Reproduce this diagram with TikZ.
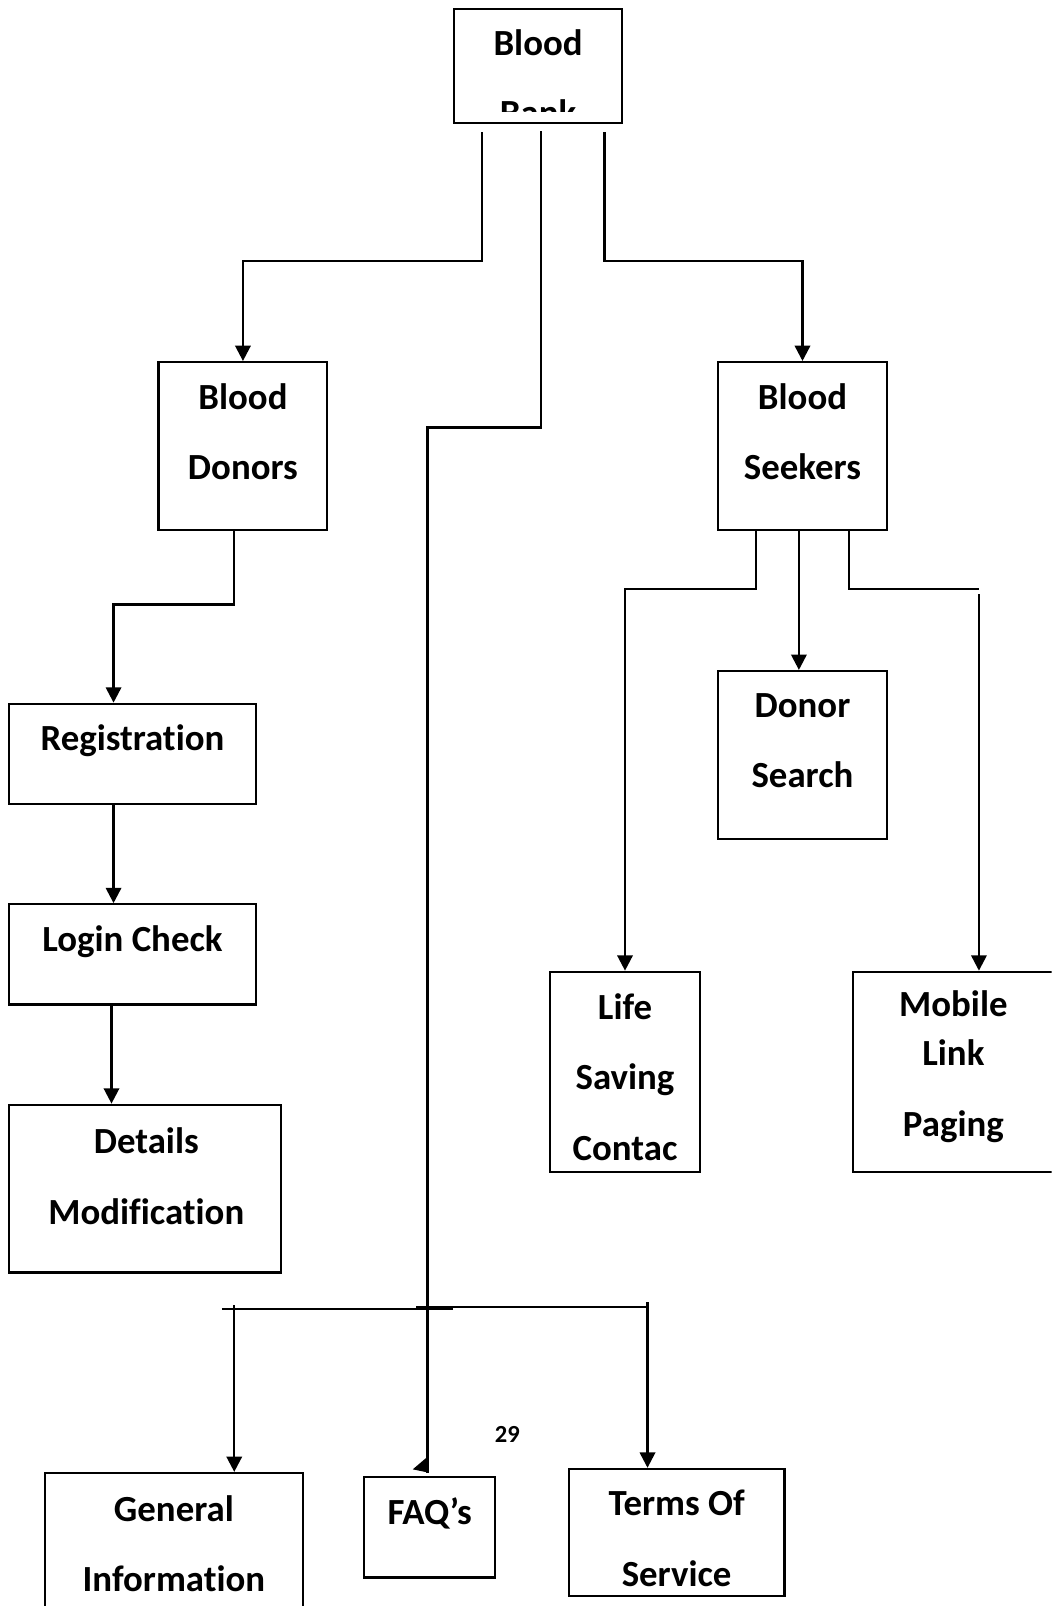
\documentclass[tikz,border=0pt]{standalone}
\usepackage{fontspec}
\setmainfont{Carlito}[Ligatures={TeX,NoCommon,NoContextual}, Contextuals=NoAlternate, RawFeature={-liga;-clig;-calt}]
\usetikzlibrary{arrows.meta,calc,fit}

\begin{document}
\begin{tikzpicture}[x=0.5pt,y=-0.5pt,
    box/.style={draw, line width=1.1pt, inner sep=0pt},
    txt/.style={align=center, font=\bfseries\fontsize{18}{34.5}\selectfont},
    line/.style={line width=1.2pt},
    arr/.style={line width=1.2pt, -{Triangle[width=7.5pt,length=7.5pt]}}]
                \clip (0,0) rectangle (1028,1570);
                \node[box, fit={(444,9) (608,120)}] (bank) {};
                \node[box, fit={(155,354) (320,518)}] (donors) {};
                \node[box, fit={(702,354) (867,518)}] (seekers) {};
                \node[box, fit={(9,688) (250,786)}] (reg) {};
                \node[box, fit={(9,884) (250,982)}] (login) {};
                \node[box, fit={(9,1080) (275,1244)}] (details) {};
                \node[box, fit={(702,656) (867,820)}] (search) {};
                \node[box, fit={(538,950) (684,1146)}] (life) {};
                \node[box, fit={(834,950) (1032,1146)}] (mobile) {};
                \node[box, fit={(44,1440) (296,1590)}] (general) {};
                \node[box, fit={(356,1444) (484,1542)}] (faq) {};
                \node[box, fit={(556,1436) (767,1560)}] (terms) {};
                \begin{scope}
                    \clip (444,9) rectangle (608,109);
                    \node[txt] (bankT) at (526,76) {Blood\\Bank};
                \end{scope}
                \node[txt] (donorsT) at (237.5,422) {Blood\\Donors};
                \node[txt] (seekersT) at (784.5,422) {Blood\\Seekers};
                \node[txt] (regT) at (129.5,724) {Registration};
                \node[txt] (loginT) at (129.5,921) {Login Check};
                \node[txt] (detailsT) at (143,1150) {Details\\Modification};
                \node[txt] (searchT) at (784.5,724) {Donor\\Search};
                \node[txt] (lifeT) at (611,1053) {Life\\Saving\\Contac};
                \node[txt] (mobileT) at (932,1043) {Mobile\\[-10.5pt]Link\\Paging};
                \node[txt] (generalT) at (170,1509) {General\\Information};
                \node[txt] (faqT) at (420,1479) {FAQ’s};
                \node[txt] (termsT) at (661.5,1504) {Terms Of\\Service};
                \node[font=\bfseries\fontsize{12}{14}\selectfont] (page) at (496,1402) {29};
                \draw[arr] ($(bank.south)+(-55,8)$) |- ($(donors.north)+(0,-98)$) -- (donors.north);
                \draw[arr] ($(bank.south)+(65,8)$) |- ($(seekers.north)+(0,-98)$) -- (seekers.north);
                \draw[line] ($(bank.south)+(3,7)$) |- ($(faq.north)+(-2,-1025)$) -- ($(faq.north)+(-2,-3)$);
                \fill ($(faq.north)+(-3,-18)$) -- ++(-13.5,11.5) -- ++(14.5,3) -- cycle;
                \draw[arr] ($(donors.south)+(-8.5,0)$) |- ($(reg.north)+(-18.5,-96)$) -- ($(reg.north)+(-18.5,0)$);
                \draw[arr] ($(reg.south)+(-18.5,0)$) -- ($(login.north)+(-18.5,0)$);
                \draw[arr] ($(login.south)+(-20.5,0)$) -- ($(details.north)+(-33,0)$);
                \draw[arr] ($(seekers.south)+(-45.5,0)$) |- ($(life.north)+(0,-373)$) -- (life.north);
                \draw[arr] ($(seekers.south)+(-3.5,0)$) -- ($(search.north)+(-3.5,0)$);
                \draw[line] ($(seekers.south)+(45.5,0)$) |- ($(mobile.north)+(24,-373)$);
                \draw[arr] ($(mobile.north)+(24,-368)$) -- ($(mobile.north)+(24,0)$);
                \coordinate (fork) at ($(faq.north)+(-2,-164)$);
                \draw[line] ($(fork)+(-201,1)$) -- ($(fork)+(25,1)$);
                \draw[line] ($(fork)+(-11,-1)$) -- ($(fork)+(215,-1)$);
                \draw[arr] ($(general.north)+(59,-163)$) -- ($(general.north)+(59,0)$);
                \draw[arr] ($(terms.north)+(-28.5,-162)$) -- ($(terms.north)+(-28.5,0)$);
            \end{tikzpicture}
\end{document}
